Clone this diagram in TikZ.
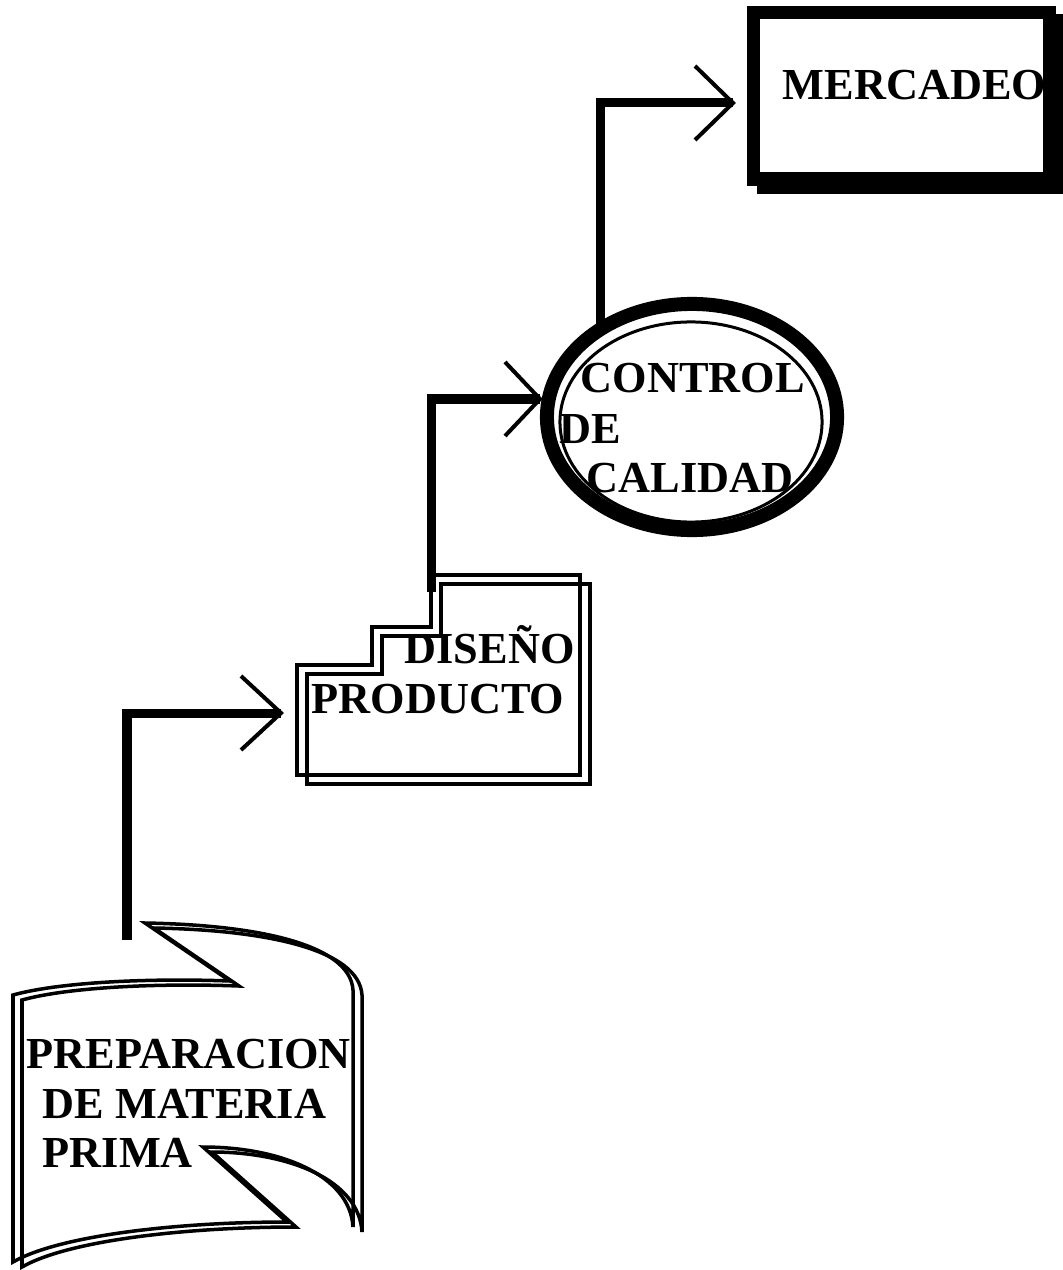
\documentclass[tikz,border=0pt]{standalone}
\usepackage{fontspec}
\setmainfont{Liberation Serif}

\begin{document}
\begin{tikzpicture}[x=0.01cm,y=-0.01cm,
    flow/.style={line width=0.09cm},
    barb/.style={line width=0.04cm},
    outline/.style={line width=0.035cm},
    lbl/.style={font=\fontsize{12.6}{14}\selectfont\bfseries, inner sep=0pt, anchor=base west}]
  \useasboundingbox (0,0) rectangle (1062,1270);

  % Preparacion: scroll with its shadow
  \foreach \dx/\dy in {9/5,0/0} {
    \draw[outline, shift={(\dx,\dy)}] (145,923) .. controls (260,925) and (350,945) .. (353,990)
      -- (353,1227) .. controls (350,1175) and (280,1147) .. (203,1147)
      -- (287,1222) .. controls (180,1222) and (60,1235) .. (13,1262)
      -- (13,995) .. controls (60,982) and (150,978) .. (230,981) -- cycle;
  }

  % Diseno: steps with their shadow
  \foreach \dx/\dy in {10/9,0/0} {
    \draw[line width=0.04cm, shift={(\dx,\dy)}] (431,575) -- (580,575) -- (580,775) -- (297,775)
      -- (297,665) -- (372,665) -- (372,627) -- (431,627) -- cycle;
  }

  % Control: double ellipse
  \draw[line width=0.14cm] (692,417) ellipse [x radius=1.45cm, y radius=1.13cm];
  \draw[line width=0.03cm] (691,422) ellipse [x radius=1.31cm, y radius=1.0cm];

  % Mercadeo: heavy box with shadow
  \draw[line width=0.13cm] (763,21) rectangle (1059,187);
  \draw[line width=0.13cm, fill=white] (753,13) rectangle (1049,179);

  % connector ends
  \coordinate (s1) at (127,940);
  \coordinate (t1) at (281,713);
  \coordinate (s2) at (431,592);
  \coordinate (t2) at (540,399);
  \coordinate (s3) at (600,325);
  \coordinate (t3) at (733,103);

  \draw[flow] (s1) |- (t1);
  \draw[barb] (t1) ++(-40,-37) -- (t1) -- ++(-40,37);
  \draw[flow] (s2) |- (t2);
  \draw[barb] (t2) ++(-35,-37) -- (t2) -- ++(-35,37);
  \draw[flow] (s3) |- (t3);
  \draw[barb] (t3) ++(-38,-37) -- (t3) -- ++(-38,37);

  % labels
  \node[lbl] (prep1) at (26,1068) {PREPARACION};
  \node[lbl] (prep2) at (42,1118) {DE MATERIA};
  \node[lbl] (prep3) at (42,1167) {PRIMA};
  \node[lbl] (dis1) at (404,663) {DISEÑO};
  \node[lbl] (dis2) at (311,713) {PRODUCTO};
  \node[lbl] (ctl1) at (580,393) {CONTROL};
  \node[lbl] (ctl2) at (559,443) {DE};
  \node[lbl] (ctl3) at (586,492) {CALIDAD};
  \node[lbl] (mkt) at (782,100) {MERCADEO};
\end{tikzpicture}
\end{document}
